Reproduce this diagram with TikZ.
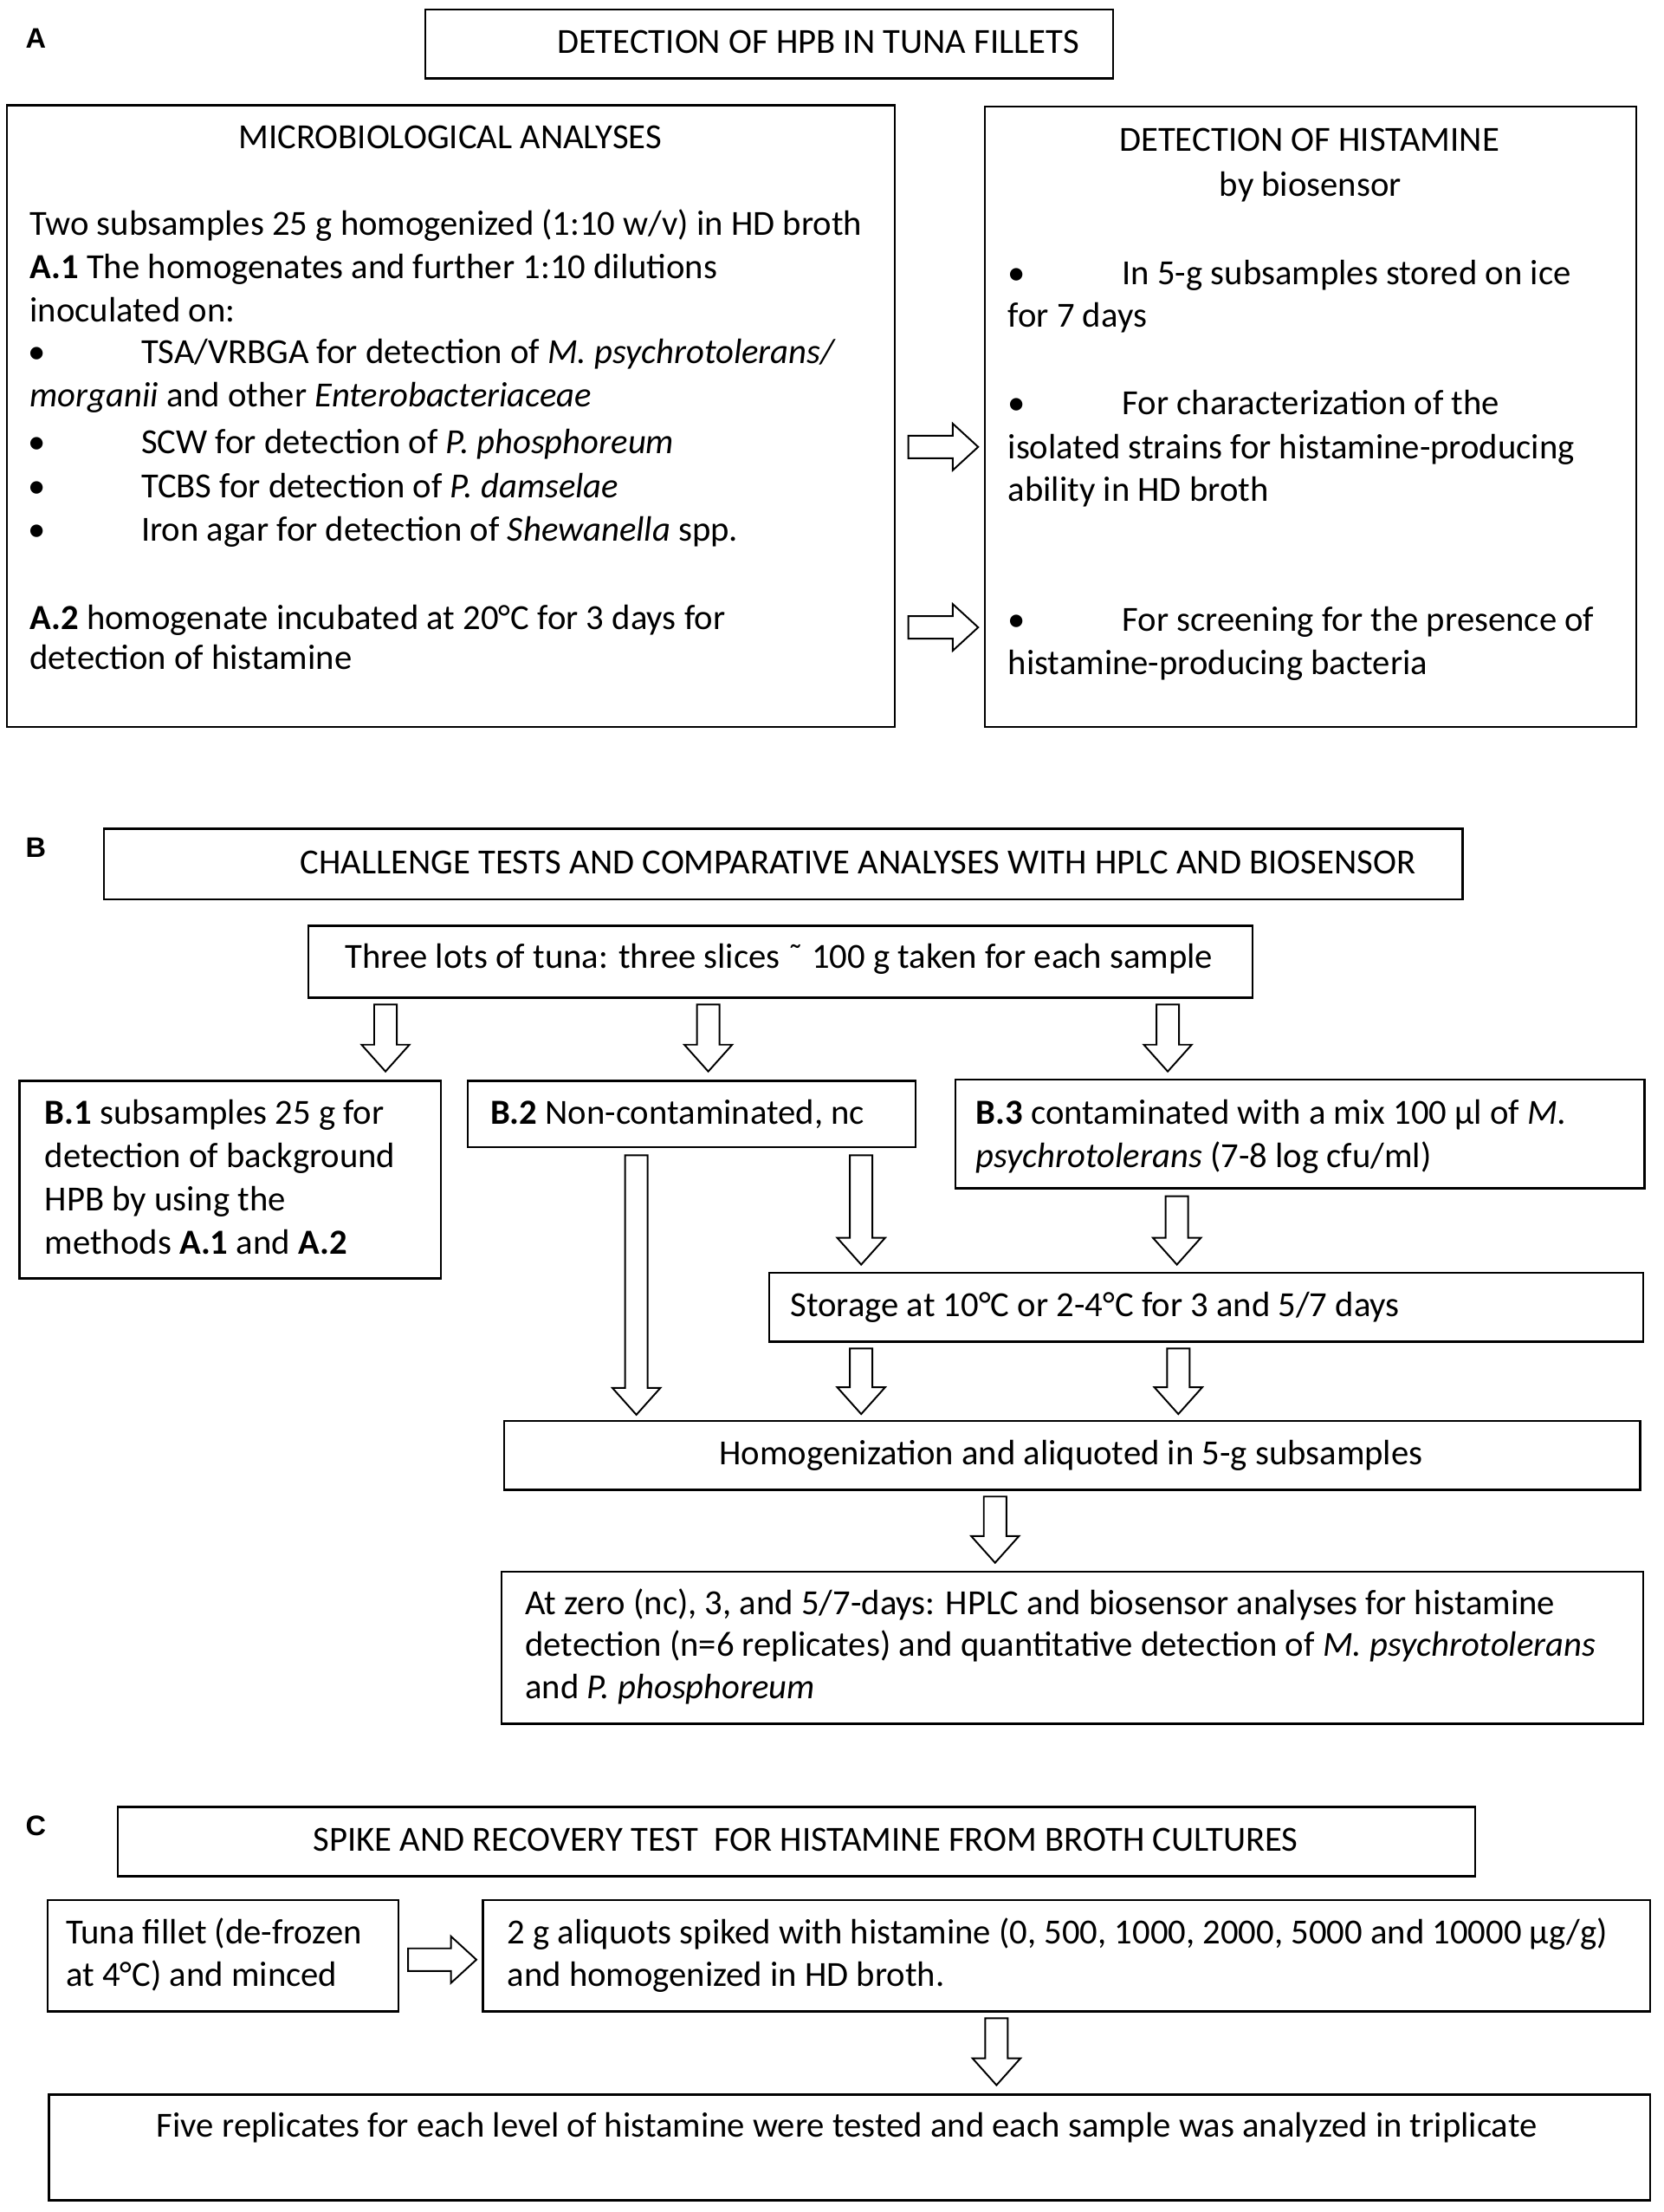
\documentclass[tikz,border=0pt]{standalone}
\usepackage{fontspec}
\setmainfont{Carlito}
\newfontfamily\labfont{Liberation Sans}
\usetikzlibrary{calc}
\newcommand\fs{\fontsize{25}{31}\selectfont}
\tikzset{
  box/.style={draw, line width=1.5pt, inner sep=0pt, anchor=north west},
  ln/.style={anchor=base west, inner sep=0pt, font=\fs},
  lab/.style={anchor=base west, inner sep=0pt, font=\labfont\bfseries\fontsize{20}{22}\selectfont},
  barr/.style={draw, fill=white, line width=1.2pt, line join=miter},
}
\newcommand\bx[5]{\node[box, minimum width={#4-#2}, minimum height={#5-#3}] (#1) at (#2,#3) {};}
\newcommand\tx[4]{\node[ln] (#1) at (#2,{#3+7}) {#4};}
\newcommand\bul[1]{\makebox[#1][l]{•}}
\newcommand\bdown[2]{%
  \path[barr] let \p1=#1, \p2=#2 in
   (\x1-8pt,\y1) -- (\x1+8pt,\y1) -- (\x1+8pt,\y2+19pt) -- (\x1+17pt,\y2+19pt)
   -- (\x1,\y2) -- (\x1-17pt,\y2+19pt) -- (\x1-8pt,\y2+19pt) -- cycle;}
\newcommand\bright[2]{%
  \path[barr] let \p1=#1, \p2=#2 in
   (\x1,\y1+8pt) -- (\x2-18pt,\y1+8pt) -- (\x2-18pt,\y1+16.5pt) -- (\x2,\y1)
   -- (\x2-18pt,\y1-16.5pt) -- (\x2-18pt,\y1-8pt) -- (\x1,\y1-8pt) -- cycle;}
\begin{document}
\begin{tikzpicture}[x=1pt,y=-1pt]
\useasboundingbox (0,0) rectangle (1180,1569);
\fill[white] (0,0) rectangle (1180,1569);

% ---------- labels
\node[lab] (labA) at (18,34) {A};
\node[lab] (labB) at (18,608) {B};
\node[lab] (labC) at (18,1302) {C};

% ---------- boxes
\bx{titleA}{301}{6}{789}{55}
\bx{micro}{4}{74}{634}{515}
\bx{det}{698}{75}{1160}{515}
\bx{titleB}{73}{587}{1037}{637}
\bx{three}{218}{656}{888}{707}
\bx{b1}{13}{766}{312}{906}
\bx{b2}{331}{766}{649}{813}
\bx{b3}{677}{765}{1166}{842}
\bx{stor}{545}{902}{1165}{951}
\bx{homog}{357}{1007}{1163}{1056}
\bx{finB}{355}{1114}{1165}{1222}
\bx{titleC}{83}{1281}{1046}{1330}
\bx{tuna}{33}{1347}{282}{1426}
\bx{twog}{342}{1347}{1170}{1426}
\bx{finC}{34}{1485}{1170}{1560}

% ---------- section A texts
\tx{tA}{395}{30.7}{DETECTION OF HPB IN TUNA FILLETS}
\tx{mT}{169}{98.3}{MICROBIOLOGICAL ANALYSES}
\tx{m1}{21}{159.8}{Two subsamples 25 g homogenized (1:10 w/v) in HD broth}
\tx{m2}{21}{190.5}{\textbf{A.1} The homogenates and further 1:10 dilutions}
\tx{m3}{21}{221.3}{inoculated on:}
\tx{m4}{20}{251}{\bul{80pt}TSA/VRBGA for detection of \textit{M. psychrotolerans/}}
\tx{m5}{21}{281.7}{\textit{morganii} and other \textit{Enterobacteriaceae}}
\tx{m6}{20}{314.5}{\bul{80pt}SCW for detection of \textit{P. phosphoreum}}
\tx{m7}{20}{346.2}{\bul{80pt}TCBS for detection of \textit{P. damselae}}
\tx{m8}{20}{377}{\bul{80pt}Iron agar for detection of \textit{Shewanella} spp.}
\tx{m9}{21}{439.5}{\textbf{A.2} homogenate incubated at 20°C for 3 days for}
\tx{m10}{21}{468}{detection of histamine}

\tx{dT1}{794}{100.4}{DETECTION OF HISTAMINE}
\tx{dT2}{865}{132}{by biosensor}
\tx{d1}{715}{194.6}{\bul{81pt}In 5-g subsamples stored on ice}
\tx{d2}{715}{225}{for 7 days}
\tx{d3}{715}{287}{\bul{81pt}For characterization of the}
\tx{d4}{715}{318.5}{isolated strains for histamine-producing}
\tx{d5}{715}{348.5}{ability in HD broth}
\tx{d6}{715}{440.5}{\bul{81pt}For screening for the presence of}
\tx{d7}{715}{471.5}{histamine-producing bacteria}

% ---------- section B texts
\tx{tB}{213}{613}{CHALLENGE TESTS AND COMPARATIVE ANALYSES WITH HPLC AND BIOSENSOR}
\tx{t3}{244.6}{680}{Three lots of tuna: three slices ˜ 100 g taken for each sample}
\tx{b1a}{31.6}{790.7}{\textbf{B.1} subsamples 25 g for}
\tx{b1b}{31.6}{821.3}{detection of background}
\tx{b1c}{31.6}{851.9}{HPB by using the}
\tx{b1d}{31.6}{882.5}{methods \textbf{A.1} and \textbf{A.2}}
\tx{b2a}{347.7}{790.7}{\textbf{B.2} Non-contaminated, nc}
\tx{b3a}{692.4}{790.7}{\textbf{B.3} contaminated with a mix 100 µl of \textit{M.}}
\tx{b3b}{692.4}{821}{\textit{psychrotolerans} (7-8 log cfu/ml)}
\tx{st}{560.6}{926.6}{Storage at 10°C or 2-4°C for 3 and 5/7 days}
\node[ln, anchor=base] (hg) at (760,1039) {Homogenization and aliquoted in 5-g subsamples};
\tx{fb1}{372.5}{1138}{At zero (nc), 3, and 5/7-days: HPLC and biosensor analyses for histamine}
\tx{fb2}{372.5}{1168}{detection (n=6 replicates) and quantitative detection of \textit{M. psychrotolerans}}
\tx{fb3}{372.5}{1198}{and \textit{P. phosphoreum}}

% ---------- section C texts
\tx{tC}{222}{1306}{SPIKE AND RECOVERY TEST\ \ FOR HISTAMINE FROM BROTH CULTURES}
\tx{tu1}{46.7}{1372}{Tuna fillet (de-frozen}
\tx{tu2}{46.7}{1402}{at 4°C) and minced}
\tx{tg1}{359.7}{1372}{2 g aliquots spiked with histamine (0, 500, 1000, 2000, 5000 and 10000 µg/g)}
\tx{tg2}{359.7}{1402}{and homogenized in HD broth.}
\tx{fc}{111}{1509}{Five replicates for each level of histamine were tested and each sample was analyzed in triplicate}

% ---------- block arrows
\bright{($(micro.east |- 0,317)+(9,0)$)}{($(det.west |- 0,317)+(-4,0)$)}
\bright{($(micro.east |- 0,445)+(9,0)$)}{($(det.west |- 0,445)+(-4,0)$)}

\bdown{($(273.5,0 |- three.south)+(0,4)$)}{($(273.5,0 |- b1.north)+(0,-6)$)}
\bdown{($(502.5,0 |- three.south)+(0,4)$)}{($(502.5,0 |- b2.north)+(0,-6)$)}
\bdown{($(828.5,0 |- three.south)+(0,4)$)}{($(828.5,0 |- b3.north)+(0,-5)$)}
\bdown{($(451.5,0 |- b2.south)+(0,5)$)}{($(451.5,0 |- homog.north)+(0,-3.5)$)}
\bdown{($(611,0 |- b2.south)+(0,5)$)}{($(611,0 |- stor.north)+(0,-5)$)}
\bdown{($(835,0 |- b3.south)+(0,5)$)}{($(835,0 |- stor.north)+(0,-5)$)}
\bdown{($(611,0 |- stor.south)+(0,4)$)}{($(611,0 |- homog.north)+(0,-4)$)}
\bdown{($(836,0 |- stor.south)+(0,4)$)}{($(836,0 |- homog.north)+(0,-4)$)}
\bdown{($(706,0 |- homog.south)+(0,4)$)}{($(706,0 |- finB.north)+(0,-5.5)$)}
\bdown{($(707,0 |- twog.south)+(0,4)$)}{($(707,0 |- finC.north)+(0,-6)$)}

\bright{($(tuna.east |- 0,1390)+(6,0)$)}{($(twog.west |- 0,1390)+(-4,0)$)}
\end{tikzpicture}
\end{document}
